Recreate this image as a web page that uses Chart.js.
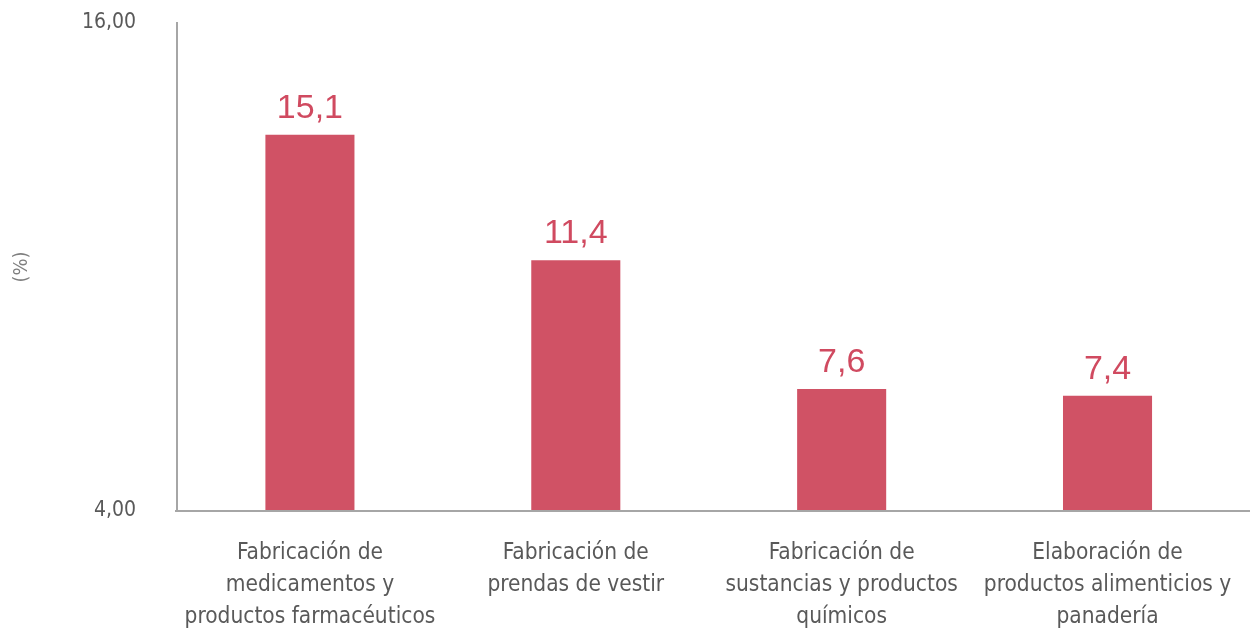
<!DOCTYPE html>
<html>
<head>
<meta charset="utf-8">
<script src="https://cdn.jsdelivr.net/npm/chart.js@4.4.1/dist/chart.umd.min.js"></script>
<style>
html,body{margin:0;padding:0;background:#fff;}
#wrap{width:1250px;height:634px;}
</style>
</head>
<body>
<div id="wrap"><canvas id="c" width="1250" height="634"></canvas></div>
<script>
const categories = [
  ["Fabricación de", "medicamentos y", "productos farmacéuticos"],
  ["Fabricación de", "prendas de vestir"],
  ["Fabricación de", "sustancias y productos", "químicos"],
  ["Elaboración de", "productos alimenticios y", "panadería"]
];
const values = [15.1, 11.4, 7.6, 7.4];
const yTickValues = [4, 18.4];
const yTickLabels = ["4,00", "16,00"];
const yTitle = "(%)";

const BAR = "#D05265";
const TXT = "#595959";
const AXIS = "#A6A6A6";
const NARROW = "'Liberation Sans Narrow', 'DejaVu Sans Condensed', sans-serif";

const TARGET = { top: 23, left: 177, right: 1239 };

const valueLabels = {
  id: 'valueLabels',
  afterDatasetsDraw(chart) {
    const ctx = chart.ctx;
    const meta = chart.getDatasetMeta(0);
    ctx.save();
    ctx.fillStyle = "#D04A60";
    ctx.font = "34px 'Liberation Sans', Arial, sans-serif";
    ctx.textAlign = "center";
    ctx.textBaseline = "alphabetic";
    meta.data.forEach((bar, i) => {
      ctx.fillText(values[i].toFixed(1).replace('.', ','), bar.x, bar.y - 17);
    });
    ctx.restore();
  }
};

const baseLine = {
  id: 'baseLine',
  afterDraw(chart) {
    const ctx = chart.ctx;
    const y = chart.scales.y.getPixelForValue(yTickValues[0]);
    ctx.save();
    ctx.strokeStyle = AXIS;
    ctx.lineWidth = 2;
    ctx.beginPath();
    ctx.moveTo(chart.chartArea.left - 2, y);
    ctx.lineTo(chart.width, y);
    ctx.stroke();
    ctx.restore();
  }
};

const chart = new Chart(document.getElementById('c'), {
  type: 'bar',
  data: {
    labels: categories,
    datasets: [{
      data: values,
      backgroundColor: BAR,
      borderWidth: 0,
      categoryPercentage: 1,
      barPercentage: 0.335
    }]
  },
  options: {
    responsive: false,
    animation: false,
    devicePixelRatio: 1,
    layout: { padding: { top: 0, right: 0, left: 0, bottom: 0 } },
    plugins: { legend: { display: false }, tooltip: { enabled: false } },
    scales: {
      x: {
        grid: { display: false },
        border: { display: false },
        ticks: {
          color: TXT,
          font: { family: NARROW, size: 22.5, lineHeight: 1.42 },
          padding: 18,
          maxRotation: 0,
          autoSkip: false
        },
        afterFit(scale) { scale.height = 123; }
      },
      y: {
        min: yTickValues[0],
        max: yTickValues[1],
        grid: { display: false },
        border: { display: true, color: AXIS, width: 2 },
        afterBuildTicks(scale) {
          scale.ticks = yTickValues.map(v => ({ value: v }));
        },
        ticks: {
          color: TXT,
          font: { family: NARROW, size: 21 },
          padding: 33,
          callback(value) {
            const i = yTickValues.indexOf(value);
            return i >= 0 ? yTickLabels[i] : '';
          }
        },
        title: {
          display: true,
          text: yTitle,
          color: "#7F7F7F",
          font: { family: NARROW, size: 20 },
          padding: { top: 10, bottom: 0 }
        },
        afterFit(scale) {
          scale.width = TARGET.left;
          scale.paddingTop = 12;
          scale.paddingBottom = 0;
        }
      }
    }
  },
  plugins: [valueLabels, baseLine]
});

// adjust layout padding so the plot area lands where the reference has it
for (let k = 0; k < 3; k++) {
  const a = chart.chartArea;
  const p = chart.config.options.layout.padding;
  p.top = Math.max(0, p.top + (TARGET.top - a.top));
  p.right = Math.max(0, p.right + (a.right - TARGET.right));
  chart.update();
}
</script>
</body>
</html>
